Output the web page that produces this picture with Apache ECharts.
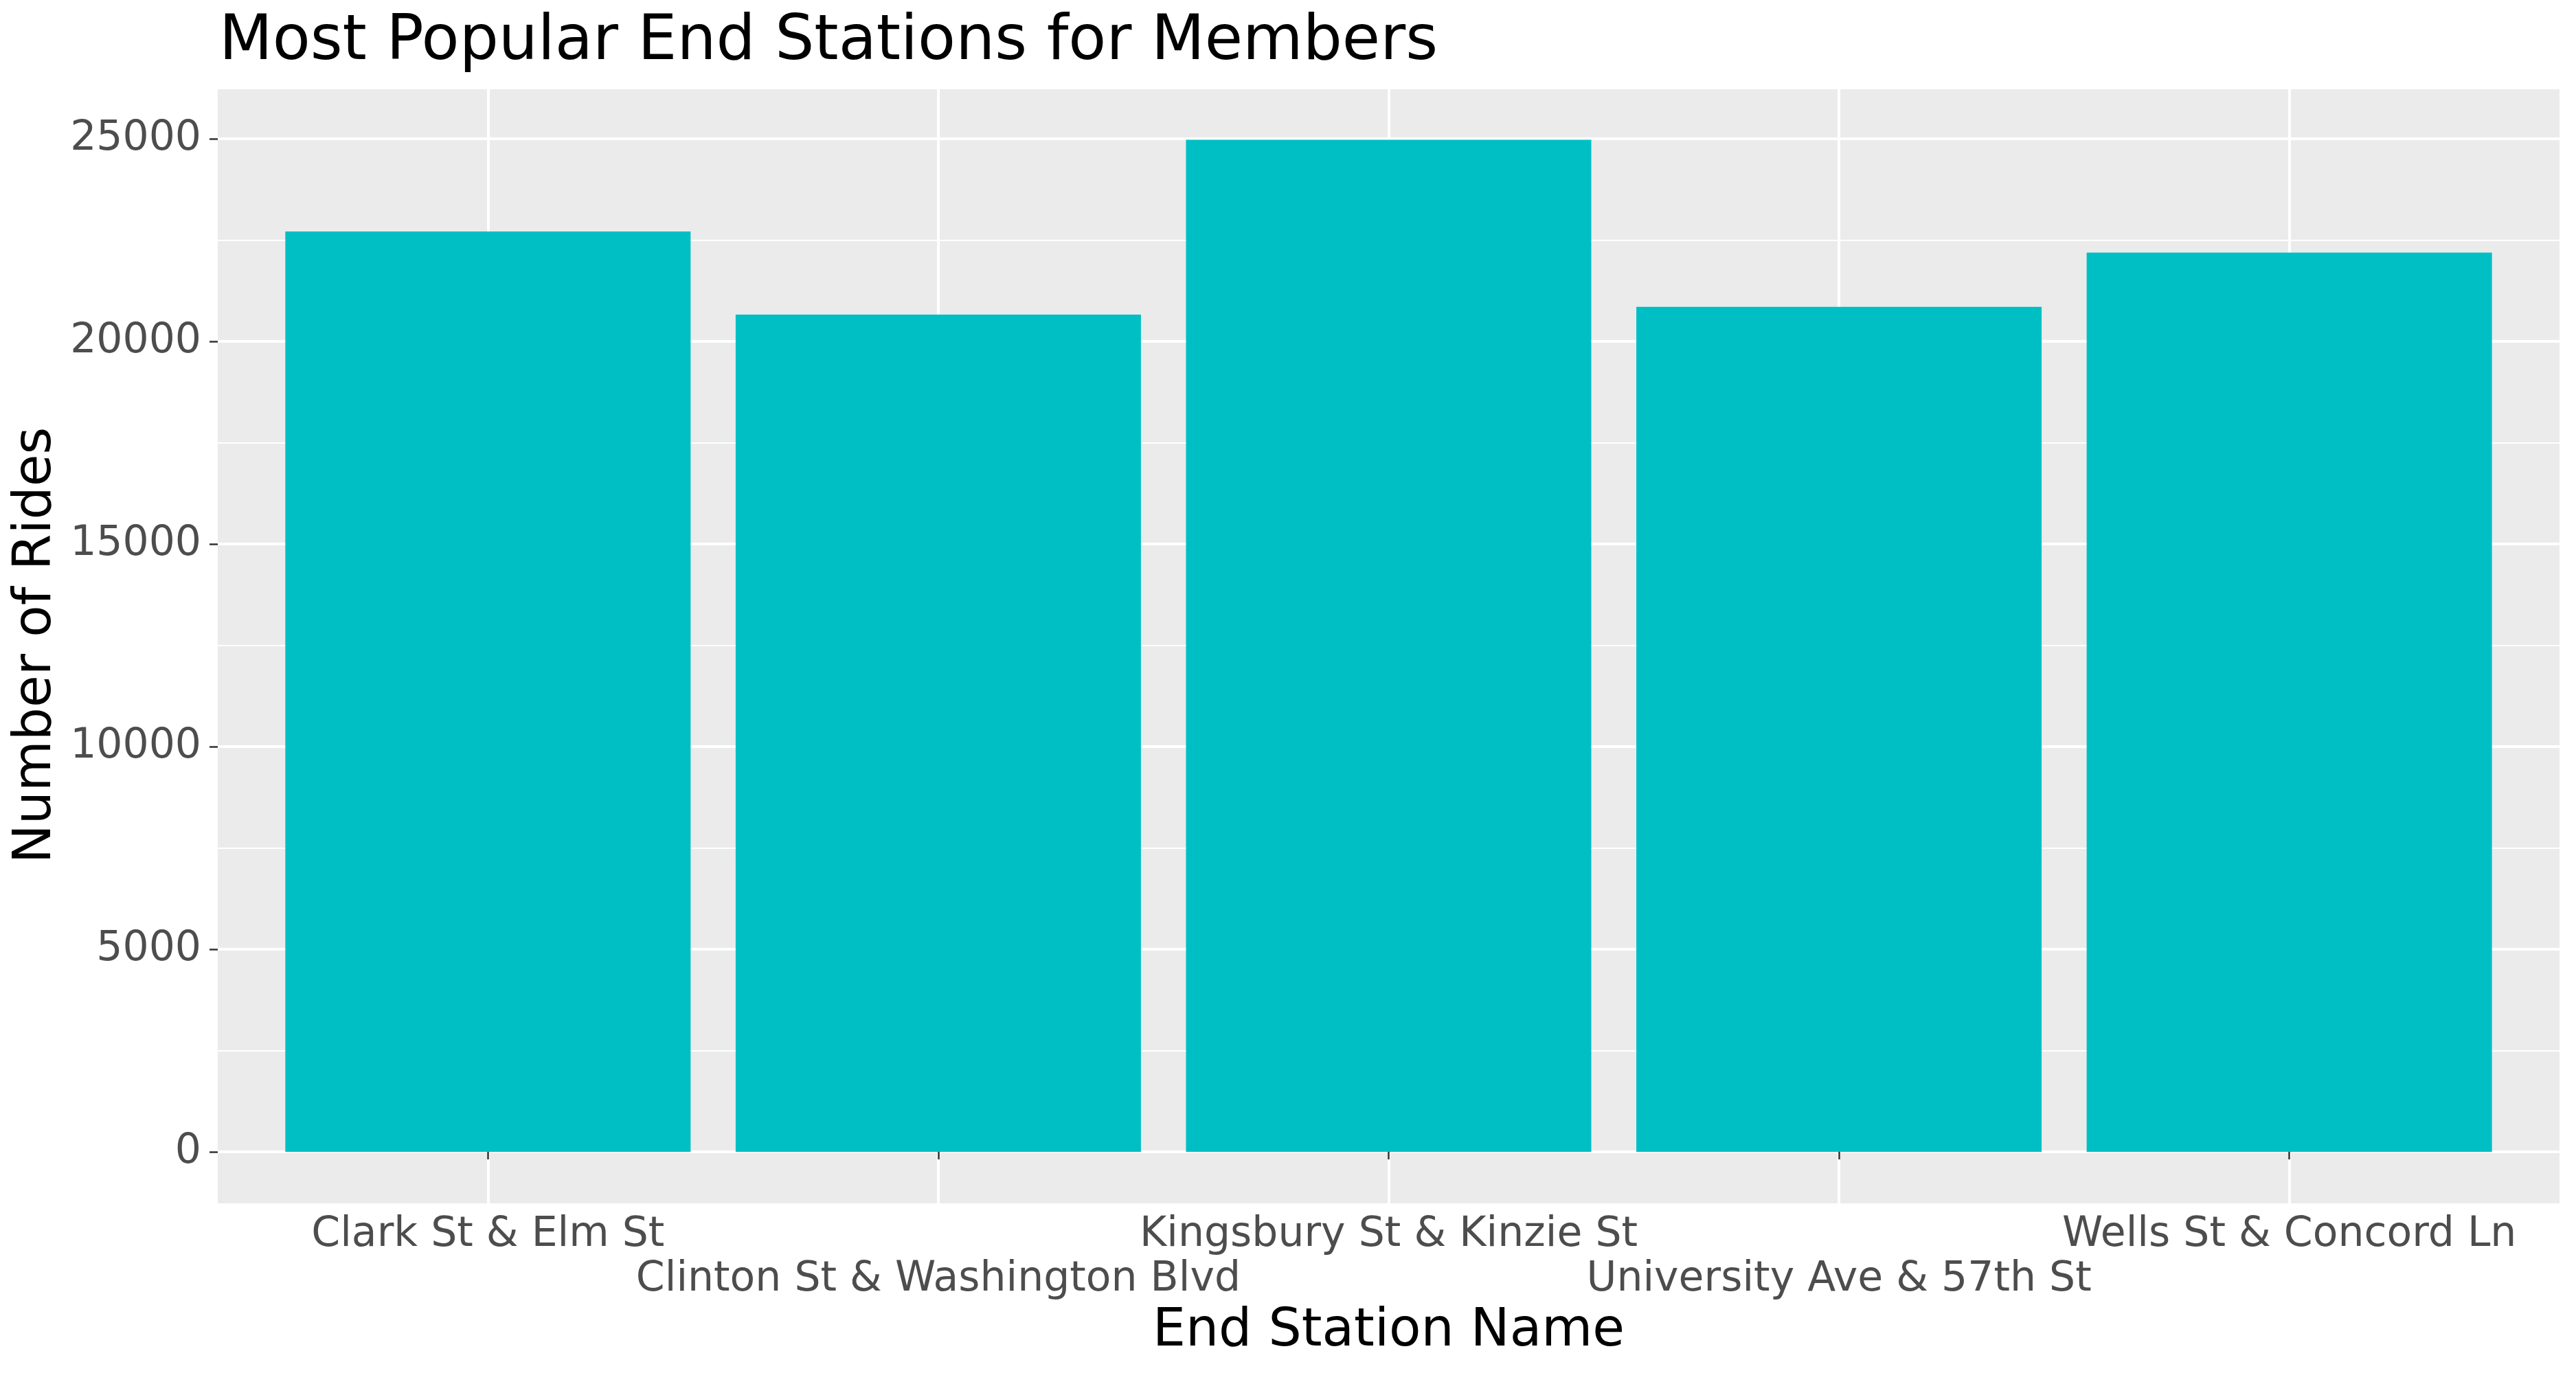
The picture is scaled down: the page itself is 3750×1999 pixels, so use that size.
<!DOCTYPE html>
<html>
<head>
<meta charset="utf-8">
<script src="https://cdn.jsdelivr.net/npm/echarts@6/dist/echarts.min.js"></script>
<style>
html,body{margin:0;padding:0;background:#fff;}
#chart{width:3750px;height:1999px;}
</style>
</head>
<body>
<div id="chart"></div>
<script>
const categories = ["Clark St & Elm St", "Clinton St & Washington Blvd", "Kingsbury St & Kinzie St", "University Ave & 57th St", "Wells St & Concord Ln"];
const rides = [22710, 20660, 24975, 20850, 22190];
const yTicks = [0, 5000, 10000, 15000, 20000, 25000];
const titleText = "Most Popular End Stations for Members";
const xTitle = "End Station Name";
const yTitle = "Number of Rides";

const FONT = "DejaVu Sans";
const panel = {left: 317, right: 3726, top: 130, bottom: 1752};
const y0px = 1677, yTopPx = 202; // pixel rows of 0 and 25000
const unit = (panel.right - panel.left) / (categories.length + 0.2);
const c1 = panel.left + 0.6 * unit;
const cN = c1 + (categories.length - 1) * unit;
const bandLeft = panel.left + 0.1 * unit;
const bandRight = panel.right - 0.1 * unit;

const chart = echarts.init(document.getElementById('chart'), null, {renderer: 'canvas'});
const yMax = yTicks[yTicks.length - 1];
const option = {
  backgroundColor: '#ffffff',
  animation: false,
  title: {
    text: titleText, left: panel.left - 3, top: 13,
    textStyle: {fontFamily: FONT, fontSize: 90, fontWeight: 'normal', color: '#000'}
  },
  grid: [
    {left: panel.left, width: panel.right - panel.left, top: panel.top, height: panel.bottom - panel.top,
     show: true, backgroundColor: '#EBEBEB', borderWidth: 0, containLabel: false},
    {left: panel.left, width: panel.right - panel.left, top: yTopPx, height: y0px - yTopPx, containLabel: false},
    {left: c1, width: cN - c1, top: panel.top, height: panel.bottom - panel.top, containLabel: false},
    {left: bandLeft, width: bandRight - bandLeft, top: yTopPx, height: y0px - yTopPx, containLabel: false}
  ],
  xAxis: [
    {gridIndex: 0, type: 'value', min: 0, max: 1, show: false},
    {gridIndex: 1, type: 'value', min: 0, max: 1, show: false},
    {gridIndex: 2, type: 'value', min: 1, max: categories.length, interval: 1,
     axisLine: {show: false}, axisTick: {show: false}, axisLabel: {show: false},
     splitLine: {show: true, showMinLine: true, showMaxLine: true, lineStyle: {color: '#ffffff', width: 4}}},
    {gridIndex: 3, type: 'category', data: categories, offset: panel.bottom - y0px,
     axisLine: {show: false},
     axisTick: {show: true, alignWithLabel: true, length: 11, lineStyle: {color: '#333333', width: 2.5}},
     splitLine: {show: false},
     axisLabel: {show: true, interval: 0, margin: 14, fontFamily: FONT, fontSize: 60, color: '#4D4D4D', lineHeight: 65,
       formatter: function (v, i) { return (i % 2 === 1 ? '\n' : '') + v; }},
     name: xTitle, nameLocation: 'middle', nameGap: 149,
     nameTextStyle: {fontFamily: FONT, fontSize: 76, color: '#000'}}
  ],
  yAxis: [
    {gridIndex: 0, type: 'value', min: 0, max: 1, show: false},
    {gridIndex: 1, type: 'value', min: yTicks[0], max: yMax, interval: yTicks[1] - yTicks[0],
     axisLine: {show: false},
     axisTick: {show: true, length: 12, lineStyle: {color: '#333333', width: 2.5}},
     minorTick: {show: false, splitNumber: 2},
     splitLine: {show: true, lineStyle: {color: '#ffffff', width: 4}},
     minorSplitLine: {show: true, lineStyle: {color: '#ffffff', width: 2}},
     axisLabel: {show: true, margin: 24, fontFamily: FONT, fontSize: 60, color: '#4D4D4D',
       formatter: function (v) { return String(v); }},
     name: yTitle, nameLocation: 'middle', nameGap: 212, nameRotate: 90,
     nameTextStyle: {fontFamily: FONT, fontSize: 76, color: '#000'}},
    {gridIndex: 2, type: 'value', min: 0, max: 1, show: false},
    {gridIndex: 3, type: 'value', min: yTicks[0], max: yMax, show: false}
  ],
  series: [{
    type: 'bar', xAxisIndex: 3, yAxisIndex: 3, data: rides,
    barCategoryGap: '10%', itemStyle: {color: '#00BFC4'}, z: 5
  }]
};
chart.setOption(option);
</script>
</body>
</html>
